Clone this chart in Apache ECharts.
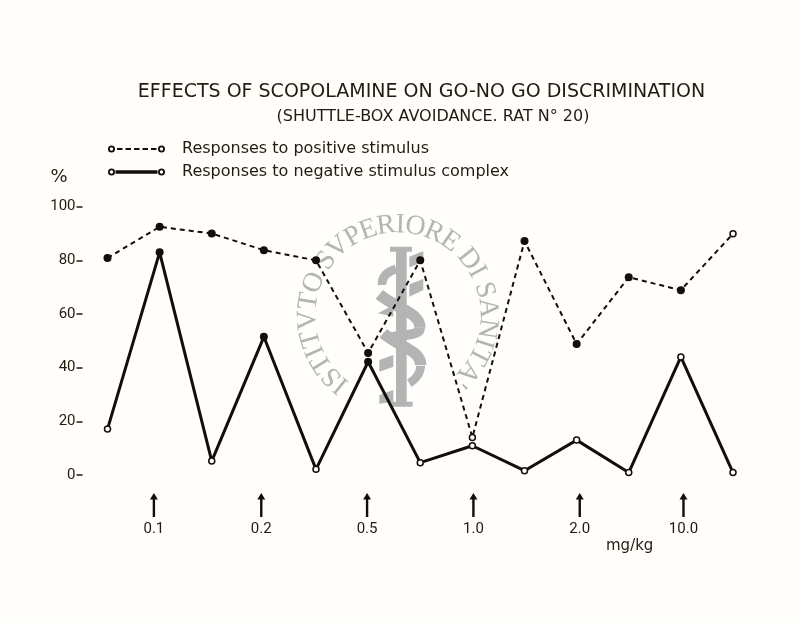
<!DOCTYPE html>
<html><head><meta charset="utf-8">
<style>html,body{margin:0;padding:0;background:#fffefb}#c{width:800px;height:620px}</style>
<script src="https://cdn.jsdelivr.net/npm/echarts@6/dist/echarts.min.js"></script>
</head><body><div id="c"></div>
<script>
const sessions = ['1','2','3','4','5','6','7','8','9','10','11','12','13'];
const positiveValues = [80.9,92.5,90,83.8,80,45.5,80,14,87.2,48.8,73.7,68.9,89.9];
const negativeValues = [17.1,83,5.2,51.5,2.1,42.2,4.6,10.9,1.6,13,0.9,44,0.9];
const positiveFilled = [1,1,1,1,1,1,1,0,1,1,1,1,0];
const negativeFilled = [0,1,0,1,0,1,0,0,0,0,0,0,0];
const doseLabels = ['0.1','0.2','0.5','1.0','2.0','10.0'];
const dosePositions = [0.89,2.95,4.98,7.02,9.06,11.05];
const yTicks = [0,20,40,60,80,100];
const titleText = 'EFFECTS OF SCOPOLAMINE ON GO-NO GO DISCRIMINATION';
const subtitleText = '(SHUTTLE-BOX AVOIDANCE. RAT N° 20)';
const positiveName = 'Responses to positive stimulus';
const negativeName = 'Responses to negative stimulus complex';
const sealText = "ISTITVTO SVPERIORE DI SANITA'";

const INK = '#120e09', TXT = '#231a10', SEAL = '#b4b4b4', BG = '#fffefb';
const FONT = 'Roboto', WIDE = '"DejaVu Sans"';

function ring(cx){
  return `M${cx-35} 35A35 35 0 1 1 ${cx+35} 35A35 35 0 1 1 ${cx-35} 35Z`+
         `M${cx-17} 35A17 17 0 1 0 ${cx+17} 35A17 17 0 1 0 ${cx-17} 35Z`;
}
let dashes='';
[90,175,260,345,430].forEach(x=>{dashes+=`M${x} 25L${x+55} 25L${x+55} 45L${x} 45Z`;});
const iconDash='path://'+ring(35)+ring(535)+dashes;
const iconSolid='path://'+ring(35)+ring(535)+'M75 17L495 17L495 53L75 53Z';

function points(vals,flags){
  return vals.map((v,i)=>({value:v,symbolSize:flags[i]?8:6,
    itemStyle:{color:flags[i]?INK:BG,borderColor:INK,borderWidth:flags[i]?0:1.5}}));
}

// seal lettering
const SEAL_FONT='28px "Liberation Serif"';
const mc=document.createElement('canvas').getContext('2d');
mc.font=SEAL_FONT;
const widths=[...sealText].map(ch=>mc.measureText(ch).width);
const CX=398,CY=315,R=90,A0=-141,A1=137;
let cum=[],t=0;
widths.forEach((w,i)=>{cum.push(t+w/2);t+=w;});
const span=cum[cum.length-1]-cum[0];
const sealLetters=[...sealText].map((ch,i)=>{
  const deg=A0+(A1-A0)*(cum[i]-cum[0])/span, a=deg*Math.PI/180;
  return {type:'text',x:CX+R*Math.sin(a),y:CY-R*Math.cos(a),rotation:-a,silent:true,z:0,
    style:{text:ch,x:0,y:0,align:'center',verticalAlign:'middle',fill:SEAL,font:SEAL_FONT}};
});
// staff and serpents, in a local frame
const band=(p,w)=>({type:'bezierCurve',silent:true,
  shape:{x1:p[0],y1:p[1],cpx1:p[2],cpy1:p[3],cpx2:p[4],cpy2:p[5],x2:p[6],y2:p[7]},
  style:{fill:'none',stroke:SEAL,lineWidth:w}});
const solid=pts=>({type:'polygon',silent:true,shape:{points:pts},style:{fill:SEAL}});
const sealEmblem={type:'group',x:290,y:205,scaleX:1/3,scaleY:1/3,silent:true,z:0,children:[
  solid([[300,125],[366,125],[366,140],[350,140],[350,590],[368,590],[368,605],[304,605],[304,590],[318,590],[318,140],[300,140]]),
  solid([[358,155],[400,138],[400,170],[358,187]]),
  band([318,192,290,200,275,215,276,240],26),
  solid([[358,238],[400,222],[400,255],[358,275]]),
  solid([[264,325],[310,300],[310,335]]),
  band([268,268,320,312,390,322,390,368],34),
  band([390,368,390,395,340,385,290,400],30),
  band([280,385,325,425,392,435,392,480],34),
  band([392,482,392,505,375,525,358,535],26),
  solid([[268,465],[310,450],[310,485],[268,500]]),
  solid([[268,570],[310,555],[310,590],[268,596]])
]};

const chart=echarts.init(document.getElementById('c'),null,{renderer:'canvas'});
chart.setOption({
  animation:false,
  backgroundColor:BG,
  title:[
    {text:titleText,left:416.5,top:78,textAlign:'center',textStyle:{fontFamily:WIDE,fontSize:19,fontWeight:'normal',color:TXT}},
    {text:subtitleText,left:428,top:104,textAlign:'center',textStyle:{fontFamily:WIDE,fontSize:16,fontWeight:'normal',color:TXT}}
  ],
  legend:{
    orient:'vertical',left:103,top:136,itemWidth:57,itemHeight:7,itemGap:7,
    selectedMode:false,
    textStyle:{fontFamily:WIDE,fontSize:16,color:TXT,padding:[0,0,0,12]},
    data:[
      {name:positiveName,icon:iconDash,itemStyle:{color:INK,borderWidth:0}},
      {name:negativeName,icon:iconSolid,itemStyle:{color:INK,borderWidth:0}}
    ]
  },
  grid:[
    {left:107.5,width:625.5,top:206.7,height:268.3,containLabel:false},
    {left:107.5,width:625.5,top:490,height:30,containLabel:false}
  ],
  xAxis:[
    {type:'category',gridIndex:0,data:sessions,boundaryGap:false,show:false},
    {type:'value',gridIndex:1,min:0,max:12,show:false}
  ],
  yAxis:[
    {type:'value',gridIndex:0,min:0,max:100,interval:20,offset:25,
     name:'%',nameLocation:'end',nameGap:20,
     nameTextStyle:{fontFamily:WIDE,fontSize:18,color:TXT,align:'right',padding:[0,15,0,0]},
     axisLine:{show:false},splitLine:{show:false},
     axisTick:{show:true,length:6,lineStyle:{color:TXT,width:1.5}},
     axisLabel:{margin:7,fontFamily:FONT,fontSize:15,color:TXT,
       formatter:v=>yTicks.includes(v)?String(v):''}},
    {type:'value',gridIndex:1,min:0,max:1,show:false}
  ],
  graphic:{elements:[sealEmblem,...sealLetters,
    {type:'text',x:606,y:539,silent:true,z:5,style:{text:'mg/kg',fill:TXT,font:'15px "DejaVu Sans"'}}
  ]},
  series:[
    {name:positiveName,type:'line',xAxisIndex:0,yAxisIndex:0,data:points(positiveValues,positiveFilled),
     symbol:'circle',showAllSymbol:true,lineStyle:{color:INK,width:2,type:[5,4]},silent:true,z:3},
    {name:negativeName,type:'line',xAxisIndex:0,yAxisIndex:0,data:points(negativeValues,negativeFilled),
     symbol:'circle',showAllSymbol:true,lineStyle:{color:INK,width:3},silent:true,z:3},
    {name:'Dose',type:'scatter',xAxisIndex:1,yAxisIndex:1,silent:true,z:3,
     data:dosePositions.map((p,i)=>({value:[p,0.5],name:doseLabels[i]})),
     symbol:'path://M40 0L80 80L52 80L52 300L28 300L28 80L0 80Z',symbolSize:[8,24],symbolKeepAspect:false,
     itemStyle:{color:INK,opacity:1},
     label:{show:true,position:'bottom',distance:5,formatter:'{b}',fontFamily:FONT,fontSize:15,color:TXT}}
  ]
});
</script></body></html>
